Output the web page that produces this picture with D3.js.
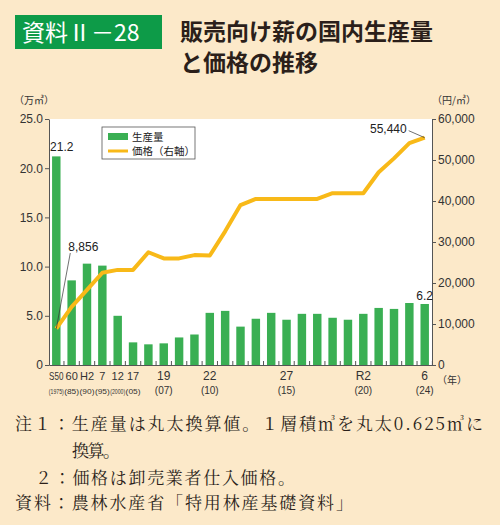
<!DOCTYPE html>
<html><head><meta charset="utf-8">
<script src="https://cdn.jsdelivr.net/npm/d3@7"></script>
<style>
body{margin:0;background:#fce9c9;}
svg{display:block;font-family:"Noto Sans CJK JP",sans-serif;}
</style></head><body>
<script>
const years = ['S50','60','H2','7','12','17','18','19','20','21','22','23','24','25','26','27','28','29','30','R1','R2','3','4','5','6'];
const volume = [21.2,8.6,10.3,10.1,5.0,2.3,2.1,2.2,2.8,3.1,5.3,5.5,3.9,4.7,5.3,4.6,5.2,5.2,4.8,4.6,5.2,5.8,5.7,6.3,6.2];
const price = [8856,14200,18300,22500,23200,23200,27500,26000,26000,26800,26700,32600,39000,40500,40500,40500,40500,40500,41900,41900,41900,47000,50400,54100,55440];
const tickIdx = [0,1,2,3,4,5,7,10,15,20,24];
const tickTop = ['S50','60','H2','7','12','17','19','22','27','R2','6'];
const tickSub = ['(1975)','(85)','(90)','(95)','(2000)','(05)','(07)','(10)','(15)','(20)','(24)'];

const svg = d3.select('body').append('svg').attr('width',500).attr('height',525);
const L=49,R=432,T=119,B=365;

// title
svg.append('rect').attr('x',15).attr('y',15).attr('width',147).attr('height',34).attr('fill','#0d9b48');
svg.append('text').attr('x',22).attr('y',41).attr('fill','#fff').attr('font-size',23).text('資料Ⅱ－28');
svg.append('text').attr('x',180).attr('y',40).attr('fill','#2b1f1a').attr('font-size',23).attr('font-weight','bold').text('販売向け薪の国内生産量');
svg.append('text').attr('x',180).attr('y',71).attr('fill','#2b1f1a').attr('font-size',23).attr('font-weight','bold').text('と価格の推移');

svg.append('rect').attr('x',L).attr('y',T).attr('width',R-L).attr('height',B-T).attr('fill','#fff');

const x = d3.scaleBand().domain(d3.range(years.length)).range([L,R]).paddingInner(0.45).paddingOuter(0.2);
const yL = d3.scaleLinear().domain([0,25]).range([B,T]);
const yR = d3.scaleLinear().domain([0,60000]).range([B,T]);

svg.selectAll('.bar').data(volume).join('rect')
  .attr('x',(d,i)=>x(i)).attr('y',d=>yL(d)).attr('width',x.bandwidth()).attr('height',d=>B-yL(d)).attr('fill','#3aaf53');

const line = d3.line().x((d,i)=>x(i)+x.bandwidth()/2).y(d=>yR(d));
svg.append('path').datum(price).attr('d',line).attr('fill','none').attr('stroke','#f8b918').attr('stroke-width',4).attr('stroke-linejoin','round');

// axes
const axL = svg.append('g').attr('transform',`translate(${L},0)`)
  .call(d3.axisLeft(yL).tickValues([0,5,10,15,20,25]).tickFormat(d=>d===0?'0':d3.format('.1f')(d)).tickSize(4).tickSizeOuter(0));
const axR = svg.append('g').attr('transform',`translate(${R},0)`)
  .call(d3.axisRight(yR).ticks(6).tickFormat(d=>d===0?'0':d3.format(',')(d)).tickSize(4).tickSizeOuter(0));
const axB = svg.append('g').attr('transform',`translate(0,${B})`)
  .call(d3.axisBottom(x).tickFormat('').tickSize(4).tickSizeOuter(0));
axB.selectAll('.tick line').attr('transform',`translate(${x.step()/2},0)`).attr('y2',-4);
[axL,axR,axB].forEach(a=>{a.selectAll('path,line').attr('stroke','#555');a.selectAll('text').attr('font-size',12).attr('fill','#333').attr('font-family','Liberation Sans,Arial');});
axL.selectAll('text').attr('x',-6);
axR.selectAll('text').attr('x',6);

tickIdx.forEach((k,j)=>{
  const cx = x(k)+x.bandwidth()/2;
  const tight = j<6;
  const t = svg.append('text').attr('x',cx).attr('y',B+15).attr('text-anchor','middle').attr('font-size',tight?11:12).attr('fill','#333')
    .attr('font-family','Liberation Sans').text(tickTop[j]);
  if (tight && tickTop[j].length>2) t.attr('textLength',x.step()-1).attr('lengthAdjust','spacingAndGlyphs');
  const s = svg.append('text').attr('x',cx).attr('y',B+29).attr('text-anchor','middle').attr('font-size',tight?8:10).attr('fill','#333')
    .attr('font-family','Liberation Sans').text(tickSub[j]);
  if (tight) s.attr('textLength',x.step()-0.5).attr('lengthAdjust','spacingAndGlyphs');
});
svg.append('text').attr('x',437).attr('y',384).attr('font-size',10).attr('fill','#333').text('（年）');
svg.append('text').attr('x',14).attr('y',104).attr('font-size',10).attr('fill','#333').text('（万㎥）');
svg.append('text').attr('x',432).attr('y',104).attr('font-size',10).attr('fill','#333').text('（円/㎥）');

// value labels
const f = 'Liberation Sans';
svg.append('text').attr('x',x(0)-2).attr('y',yL(21.2)-5).attr('font-size',12).attr('font-family',f).attr('fill','#222').text('21.2');
svg.append('text').attr('x',x(24)+x.bandwidth()/2).attr('y',yL(6.2)-4).attr('text-anchor','middle').attr('font-size',12).attr('font-family',f).attr('fill','#222').text('6.2');
const p0x = x(0)+x.bandwidth()/2;
svg.append('line').attr('x1',p0x).attr('y1',yR(8856)).attr('x2',p0x+14).attr('y2',253).attr('stroke','#333').attr('stroke-width',0.7);
svg.append('text').attr('x',p0x+12).attr('y',251).attr('font-size',12).attr('font-family',f).attr('fill','#222').text('8,856');
const p1x = x(24)+x.bandwidth()/2;
svg.append('line').attr('x1',p1x).attr('y1',yR(55440)).attr('x2',p1x-16).attr('y2',yR(55440)-7).attr('stroke','#333').attr('stroke-width',0.7);
svg.append('text').attr('x',p1x-18).attr('y',yR(55440)-5).attr('text-anchor','end').attr('font-size',12).attr('font-family',f).attr('fill','#222').text('55,440');

// legend
const lg = svg.append('g').attr('transform','translate(102,127)');
lg.append('rect').attr('width',93).attr('height',32).attr('fill','#fff').attr('stroke','#555').attr('stroke-width',0.8);
lg.append('rect').attr('x',6).attr('y',6).attr('width',20).attr('height',7).attr('fill','#3aaf53');
lg.append('line').attr('x1',6).attr('x2',26).attr('y1',24).attr('y2',24).attr('stroke','#f8b918').attr('stroke-width',3);
lg.append('text').attr('x',30).attr('y',14).attr('font-size',10.5).attr('fill','#222').text('生産量');
lg.append('text').attr('x',30).attr('y',28).attr('font-size',10.5).attr('fill','#222').text('価格（右軸）');

// notes
const notes = [[15,430,'注１：生産量は丸太換算値。１層積㎥を丸太0.625㎥に',468],[72,457,'換算。',48],[35,484,'２：価格は卸売業者仕入価格。',260],[15,509,'資料：農林水産省「特用林産基礎資料」',338]];
notes.forEach(n=>svg.append('text').attr('x',n[0]).attr('y',n[1]).attr('font-size',17).attr('fill','#2b1f1a')
  .attr('font-family','Noto Serif CJK JP,Noto Sans CJK JP').attr('textLength',n[3]).text(n[2]));
</script>
</body></html>
